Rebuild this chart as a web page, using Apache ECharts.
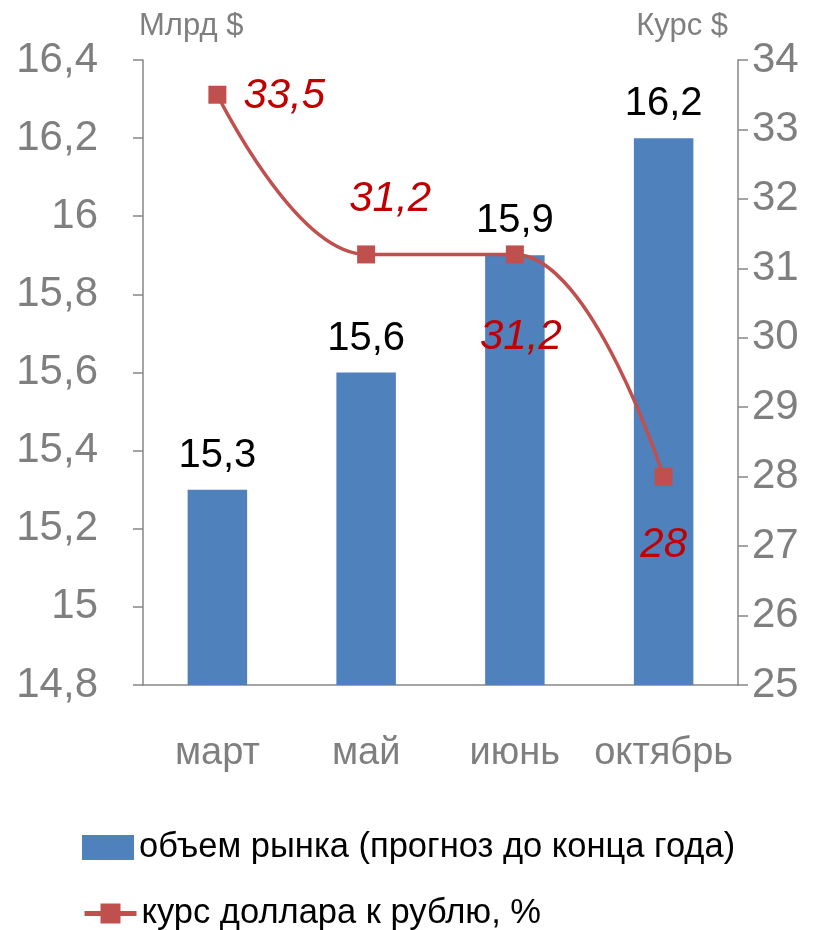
<!DOCTYPE html>
<html>
<head>
<meta charset="utf-8">
<script src="https://cdn.jsdelivr.net/npm/echarts@6/dist/echarts.min.js"></script>
<style>
  html, body { margin: 0; padding: 0; background: #fff; }
  #chart { width: 832px; height: 930px; }
</style>
</head>
<body>
<div id="chart"></div>
<script>
var months = ['март', 'май', 'июнь', 'октябрь'];
var marketVolume = [15.3, 15.6, 15.9, 16.2];
var dollarRate = [33.5, 31.2, 31.2, 28];
var barName = 'объем рынка (прогноз до конца года)';
var lineName = 'курс доллара к рублю, %';

// where each red label sits relative to its marker
var rateLabelPos = [
  { position: 'right', offset: [12, 2] },
  { position: 'top', offset: [24, -20] },
  { position: 'bottom', offset: [6, 48] },
  { position: 'bottom', offset: [0, 34] }
];

var FONT = '"Liberation Sans", Arial, sans-serif';
var GRAY = '#7f7f7f';
var AXIS = '#868686';

function comma(v) {
  return String(Math.round(v * 10) / 10).replace('.', ',');
}

var chart = echarts.init(document.getElementById('chart'));

var legendText = { fontSize: 34.5, color: '#000', fontFamily: FONT, padding: [0, 0, 0, 0] };

var option = {
  animation: false,
  textStyle: { fontFamily: FONT },
  grid: { left: 143, right: 94, top: 60, bottom: 245 },
  legend: [
    {
      left: 77,
      top: 825,
      itemWidth: 52,
      itemHeight: 25,
      textStyle: legendText,
      data: [{ name: barName, icon: 'rect' }]
    },
    {
      left: 77,
      top: 891,
      itemWidth: 52,
      itemHeight: 25,
      lineStyle: { width: 5 },
      textStyle: legendText,
      data: [{ name: lineName }]
    }
  ],
  xAxis: {
    type: 'category',
    data: months,
    axisLine: { lineStyle: { color: AXIS, width: 1.5 } },
    axisTick: { length: 12, lineStyle: { color: AXIS, width: 1.5 } },
    axisLabel: { color: GRAY, fontSize: 38, margin: 50, interval: 0 }
  },
  yAxis: [
    {
      type: 'value',
      min: 14.8,
      max: 16.4,
      interval: 0.2,
      name: 'Млрд $',
      nameGap: 18,
      nameTextStyle: { color: GRAY, fontSize: 31, align: 'left', padding: [0, 0, 0, -4] },
      splitLine: { show: false },
      axisLine: { show: true, lineStyle: { color: AXIS, width: 1.5 } },
      axisTick: { show: true, length: 10, lineStyle: { color: AXIS, width: 1.5 } },
      axisLabel: { color: GRAY, fontSize: 42, margin: 45, formatter: comma }
    },
    {
      type: 'value',
      min: 25,
      max: 34,
      interval: 1,
      name: 'Курс $',
      nameGap: 18,
      nameTextStyle: { color: GRAY, fontSize: 31, align: 'right', padding: [0, 10, 0, 0] },
      splitLine: { show: false },
      axisLine: { show: true, lineStyle: { color: AXIS, width: 1.5 } },
      axisTick: { show: true, length: 10, lineStyle: { color: AXIS, width: 1.5 } },
      axisLabel: { color: GRAY, fontSize: 42, margin: 14 }
    }
  ],
  series: [
    {
      name: barName,
      type: 'bar',
      data: marketVolume,
      barWidth: '40%',
      itemStyle: { color: '#4F81BD' },
      label: {
        show: true,
        position: 'top',
        distance: 14,
        color: '#000',
        fontSize: 40,
        formatter: function (p) { return comma(p.value); }
      }
    },
    {
      name: lineName,
      type: 'line',
      yAxisIndex: 1,
      smooth: 0.4,
      symbol: 'rect',
      symbolSize: 18,
      lineStyle: { color: '#C0504D', width: 3.5 },
      itemStyle: { color: '#C0504D' },
      data: dollarRate.map(function (v, i) {
        return {
          value: v,
          label: {
            show: true,
            position: rateLabelPos[i].position,
            offset: rateLabelPos[i].offset,
            color: '#C00000',
            fontSize: 42,
            fontStyle: 'italic',
            formatter: function (p) { return comma(p.value); }
          }
        };
      })
    }
  ]
};

chart.setOption(option);
</script>
</body>
</html>
